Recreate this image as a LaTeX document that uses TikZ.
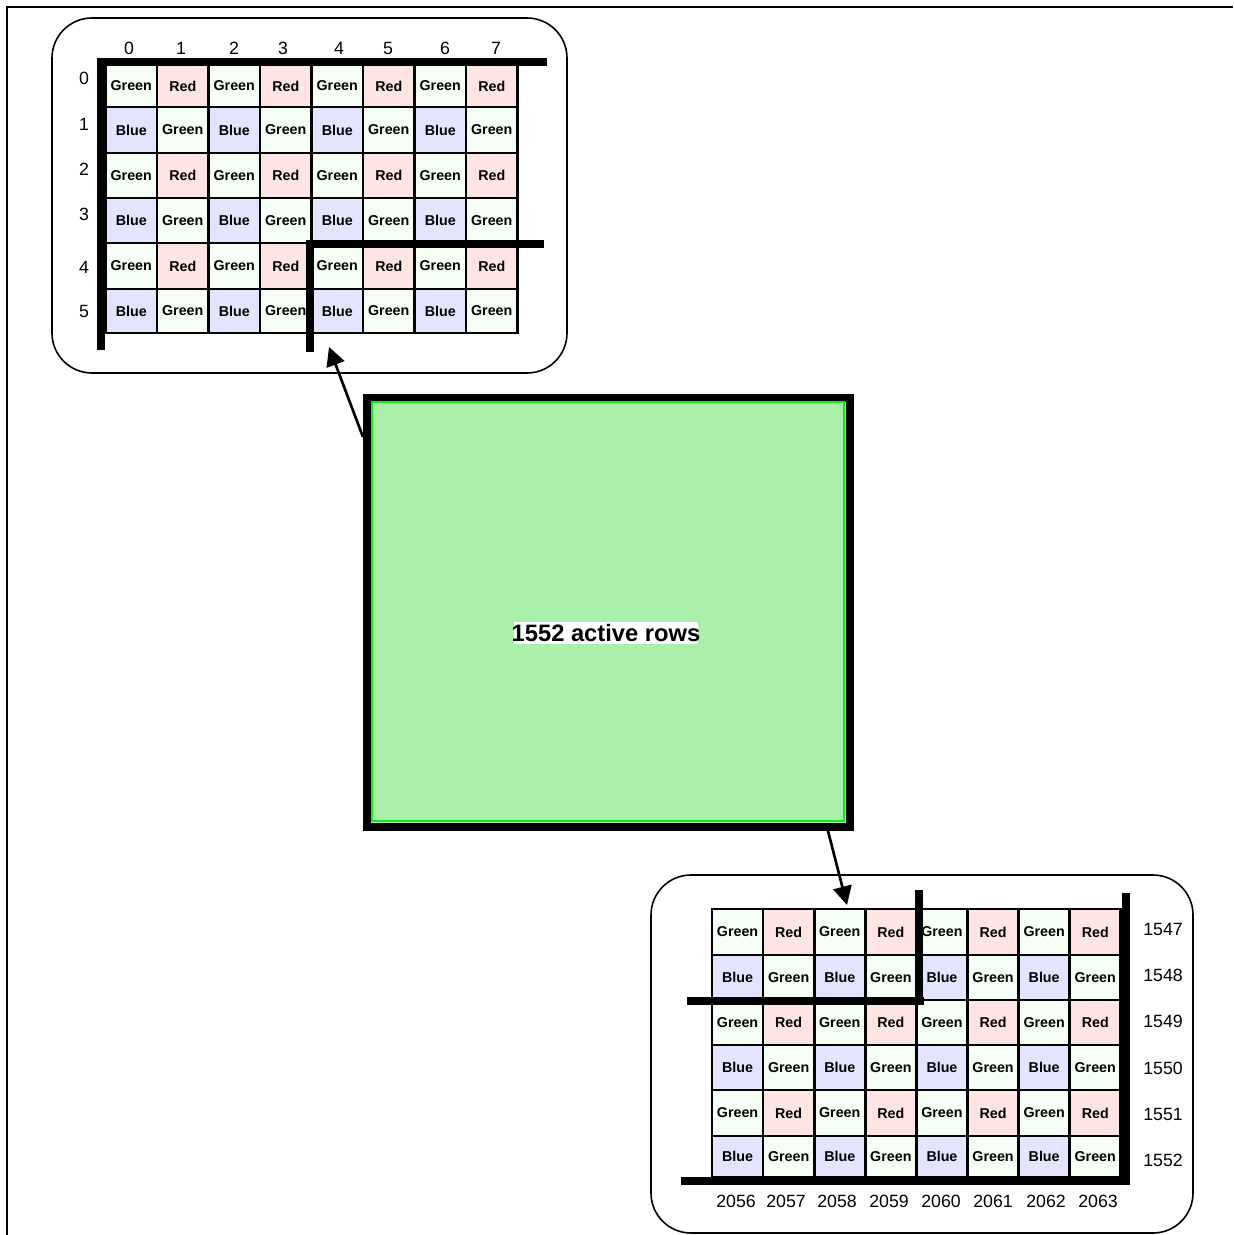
\documentclass[tikz,border=0pt]{standalone}
\usepackage{fontspec}
\setmainfont{Liberation Sans}
\usetikzlibrary{arrows.meta}
\definecolor{cg}{RGB}{245,255,245}
\definecolor{cr}{RGB}{255,228,228}
\definecolor{cb}{RGB}{228,228,255}
\definecolor{corefill}{RGB}{170,240,170}
\definecolor{coreline}{RGB}{20,235,20}
\tikzset{
  cell/.style={draw=black, line width=2pt},
  celltxt/.style={font=\fontsize{10.7}{12}\selectfont\bfseries, inner sep=0pt},
  lbl/.style={font=\fontsize{13.3}{15}\selectfont, inner sep=0pt},
  bar/.style={line width=6pt},
  roundbox/.style={draw=black, line width=1.2pt, rounded corners=30pt, inner sep=0pt},
  arr/.style={line width=2pt, -{Triangle[length=14pt,width=14pt]}},
  frame/.style={line width=2pt}
}
\begin{document}
\begin{tikzpicture}[x=0.75pt,y=-0.75pt]
\useasboundingbox (0,0) rectangle (1233,1235);
% outer frame (top and left only)
\coordinate (fa) at (1233,7);
\coordinate (fb) at (7,7);
\coordinate (fc) at (7,1235);
\draw[frame] (fa) -- (fb) -- (fc);

% rounded boxes
\node[roundbox, minimum width=386.25pt, minimum height=266.25pt] (topbox) at (309.5,195.5) {};
\node[roundbox, minimum width=406.5pt, minimum height=268.5pt] (botbox) at (922,1054) {};

% top grid cells
\foreach \r/\ya/\yb in {0/65/107,1/107/153,2/153/198,3/198/243,4/243/289,5/289/333} {
  \foreach \c in {0,...,7} {
    \pgfmathsetmacro\xa{105.5+51.5*\c}
    \pgfmathsetmacro\xb{\xa+51.5}
    \pgfmathtruncatemacro\k{2*mod(\r,2)+mod(\c,2)}
    \ifcase\k \def\cc{cg}\def\ct{Green}\or \def\cc{cr}\def\ct{Red}\or \def\cc{cb}\def\ct{Blue}\or \def\cc{cg}\def\ct{Green}\fi
    \draw[cell, fill=\cc] (\xa,\ya) rectangle (\xb,\yb);
    \node[celltxt] (t-\r-\c) at ({(\xa+\xb)/2},{(\ya+\yb)/2}) {\ct};
  }
}
% bottom grid cells
\foreach \r/\ya/\yb in {0/909/955,1/955/1000,2/1000/1045,3/1045/1090,4/1090/1136,5/1136/1177} {
  \foreach \c in {0,...,7} {
    \pgfmathsetmacro\xa{712+51.1*\c}
    \pgfmathsetmacro\xb{\xa+51.1}
    \pgfmathtruncatemacro\k{2*mod(\r,2)+mod(\c,2)}
    \ifcase\k \def\cc{cg}\def\ct{Green}\or \def\cc{cr}\def\ct{Red}\or \def\cc{cb}\def\ct{Blue}\or \def\cc{cg}\def\ct{Green}\fi
    \draw[cell, fill=\cc] (\xa,\ya) rectangle (\xb,\yb);
    \node[celltxt] (b-\r-\c) at ({(\xa+\xb)/2},{(\ya+\yb)/2}) {\ct};
  }
}

% thick bars, top grid
\draw[bar] (97,61.5) -- (547,61.5);
\draw[bar] (101,58) -- (101,350);
\draw[bar] (306,243.5) -- (544,243.5);
\draw[bar] (310,240) -- (310,352);
% thick bars, bottom grid
\draw[bar] (681,1181) -- (1130,1181);
\draw[bar] (1125.5,893) -- (1125.5,1185);
\draw[bar] (687,1000.5) -- (923.5,1000.5);
\draw[bar] (919,890) -- (919,1004);

% top labels
\foreach \t/\x in {0/129,1/181,2/234,3/283,4/339,5/388,6/445,7/496}
  \node[lbl] (cl\t) at (\x,48) {\t};
\foreach \t/\y in {0/78,1/124,2/169,3/214,4/267,5/311}
  \node[lbl] (rl\t) at (84,\y) {\t};
% bottom labels
\foreach \t/\y in {1547/929,1548/975,1549/1021,1550/1068,1551/1114,1552/1160}
  \node[lbl] (rb\t) at (1163,\y) {\t};
\foreach \t/\x in {2056/736,2057/786,2058/837,2059/889,2060/941,2061/993,2062/1046,2063/1098}
  \node[lbl] (cb\t) at (\x,1201) {\t};

% central block
\node[draw=black, line width=6pt, fill=corefill, minimum width=362.25pt, minimum height=321.75pt, inner sep=0pt] (core) at (608.5,612.5) {};
\draw[coreline, line width=1.75pt] (372.3,402) rectangle (844,821);
\node[fill=white, inner xsep=-1.5pt, inner ysep=1.5pt, font=\fontsize{17.8}{20}\selectfont\bfseries] (corelbl) at (606,633) {1552 active rows};

% arrows
\coordinate (s1) at (363,437);
\coordinate (e1) at (329,347);
\coordinate (s2) at (828,831);
\coordinate (e2) at (847,905);
\draw[arr] (core.west |- s1) -- (e1);
\draw[arr] (core.south -| s2) -- (e2);
\end{tikzpicture}
\end{document}
